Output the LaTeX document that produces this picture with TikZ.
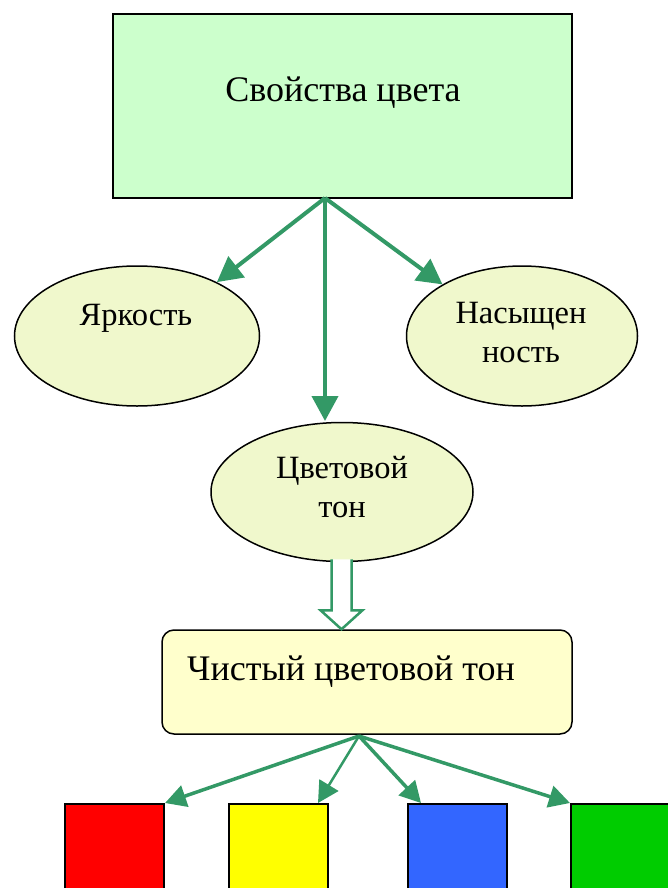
\documentclass[tikz,border=0pt]{standalone}
\usepackage{fontspec}
\setmainfont{Liberation Serif}
\usetikzlibrary{arrows.meta,calc,shapes.geometric}
\definecolor{arrgreen}{HTML}{339966}
\definecolor{topfill}{HTML}{CCFFCC}
\definecolor{ellfill}{HTML}{F0F8CC}
\definecolor{boxfill}{HTML}{FFFFCC}
\definecolor{cred}{HTML}{FF0000}
\definecolor{cyellow}{HTML}{FFFF00}
\definecolor{cblue}{HTML}{3366FF}
\definecolor{cgreen}{HTML}{00CC00}
\tikzset{
  ell/.style={ellipse, draw=black, line width=1.5pt, fill=ellfill, inner sep=0pt},
  lbl/.style={inner sep=0pt, anchor=base, font=\fontsize{32.5}{38}\selectfont},
  biglbl/.style={inner sep=0pt, font=\fontsize{36}{42}\selectfont},
  conn/.style={draw=arrgreen, line width=4pt, -{Triangle[length=25pt,width=26pt]}},
  sconn/.style={draw=arrgreen, line width=3.5pt, -{Triangle[length=21pt,width=22pt]}},
  swatch/.style={draw=black, line width=2pt, minimum width=99pt, minimum height=120pt, anchor=north west, inner sep=0pt}
}
\begin{document}
\begin{tikzpicture}[x=1pt,y=-1pt]
\useasboundingbox (0,0) rectangle (668,888);
\clip (0,0) rectangle (668,888);
% top rectangle
\node[draw=black, line width=1.5pt, fill=topfill, minimum width=459pt, minimum height=184pt, inner sep=0pt] (top) at (342.5,106) {};
\node[biglbl, anchor=base] (toptxt) at (343,102) {Свойства цвета};
% ellipses
\node[ell, minimum width=245pt, minimum height=140pt] (yark) at (137,336) {};
\node[lbl] (yarktxt) at (136,325) {Яркость};
\node[ell, minimum width=231pt, minimum height=140pt] (nas) at (522,336) {};
\node[lbl] (nastxt1) at (521,323) {Насыщен};
\node[lbl] (nastxt2) at (521,362) {ность};
\node[ell, minimum width=262pt, minimum height=139pt] (ton) at (342,492) {};
\node[lbl] (tontxt1) at (342,478) {Цветовой};
\node[lbl] (tontxt2) at (342,517) {тон};
% rounded box
\node[draw=black, line width=1.5pt, fill=boxfill, rounded corners=12pt, minimum width=410pt, minimum height=104pt, inner sep=0pt] (pure) at (367,682) {};
\node[biglbl, anchor=base west] (puretxt) at (187,680) {Чистый цветовой тон};
% colour swatches
\node[swatch, fill=cred] (red) at (64,803) {};
\node[swatch, fill=cyellow] (yel) at (228,803) {};
\node[swatch, fill=cblue] (blu) at (407,803) {};
\node[swatch, fill=cgreen] (grn) at (570,803) {};
% connectors from top
\coordinate (o1) at (325,198);
\coordinate (d1) at (325,421);
\draw[conn] (o1) -- (yark.34);
\draw[conn] (o1) -- (nas.147);
\draw[conn] (o1) -- (d1);
% hollow arrow
\draw[arrgreen, line width=2.5pt, fill=white, line join=miter]
  ($(ton.south)+(-10.5,-3)$) -- ($(ton.south)+(-10.5,48)$) -- ($(ton.south)+(-21.5,48)$)
  -- ($(pure.north)+(-25.5,0)$) -- ($(ton.south)+(20.5,48)$) -- ($(ton.south)+(9.5,48)$)
  -- ($(ton.south)+(9.5,-3)$);
% bottom connectors
\coordinate (o2) at (359,736);
\draw[sconn] (o2) -- (red.north east);
\draw[sconn, line width=2.5pt] (o2) -- ($(yel.north east)+(-11,0)$);
\draw[sconn] (o2) -- ($(blu.north west)+(14,0)$);
\draw[sconn] (o2) -- (grn.north west);
\end{tikzpicture}
\end{document}
